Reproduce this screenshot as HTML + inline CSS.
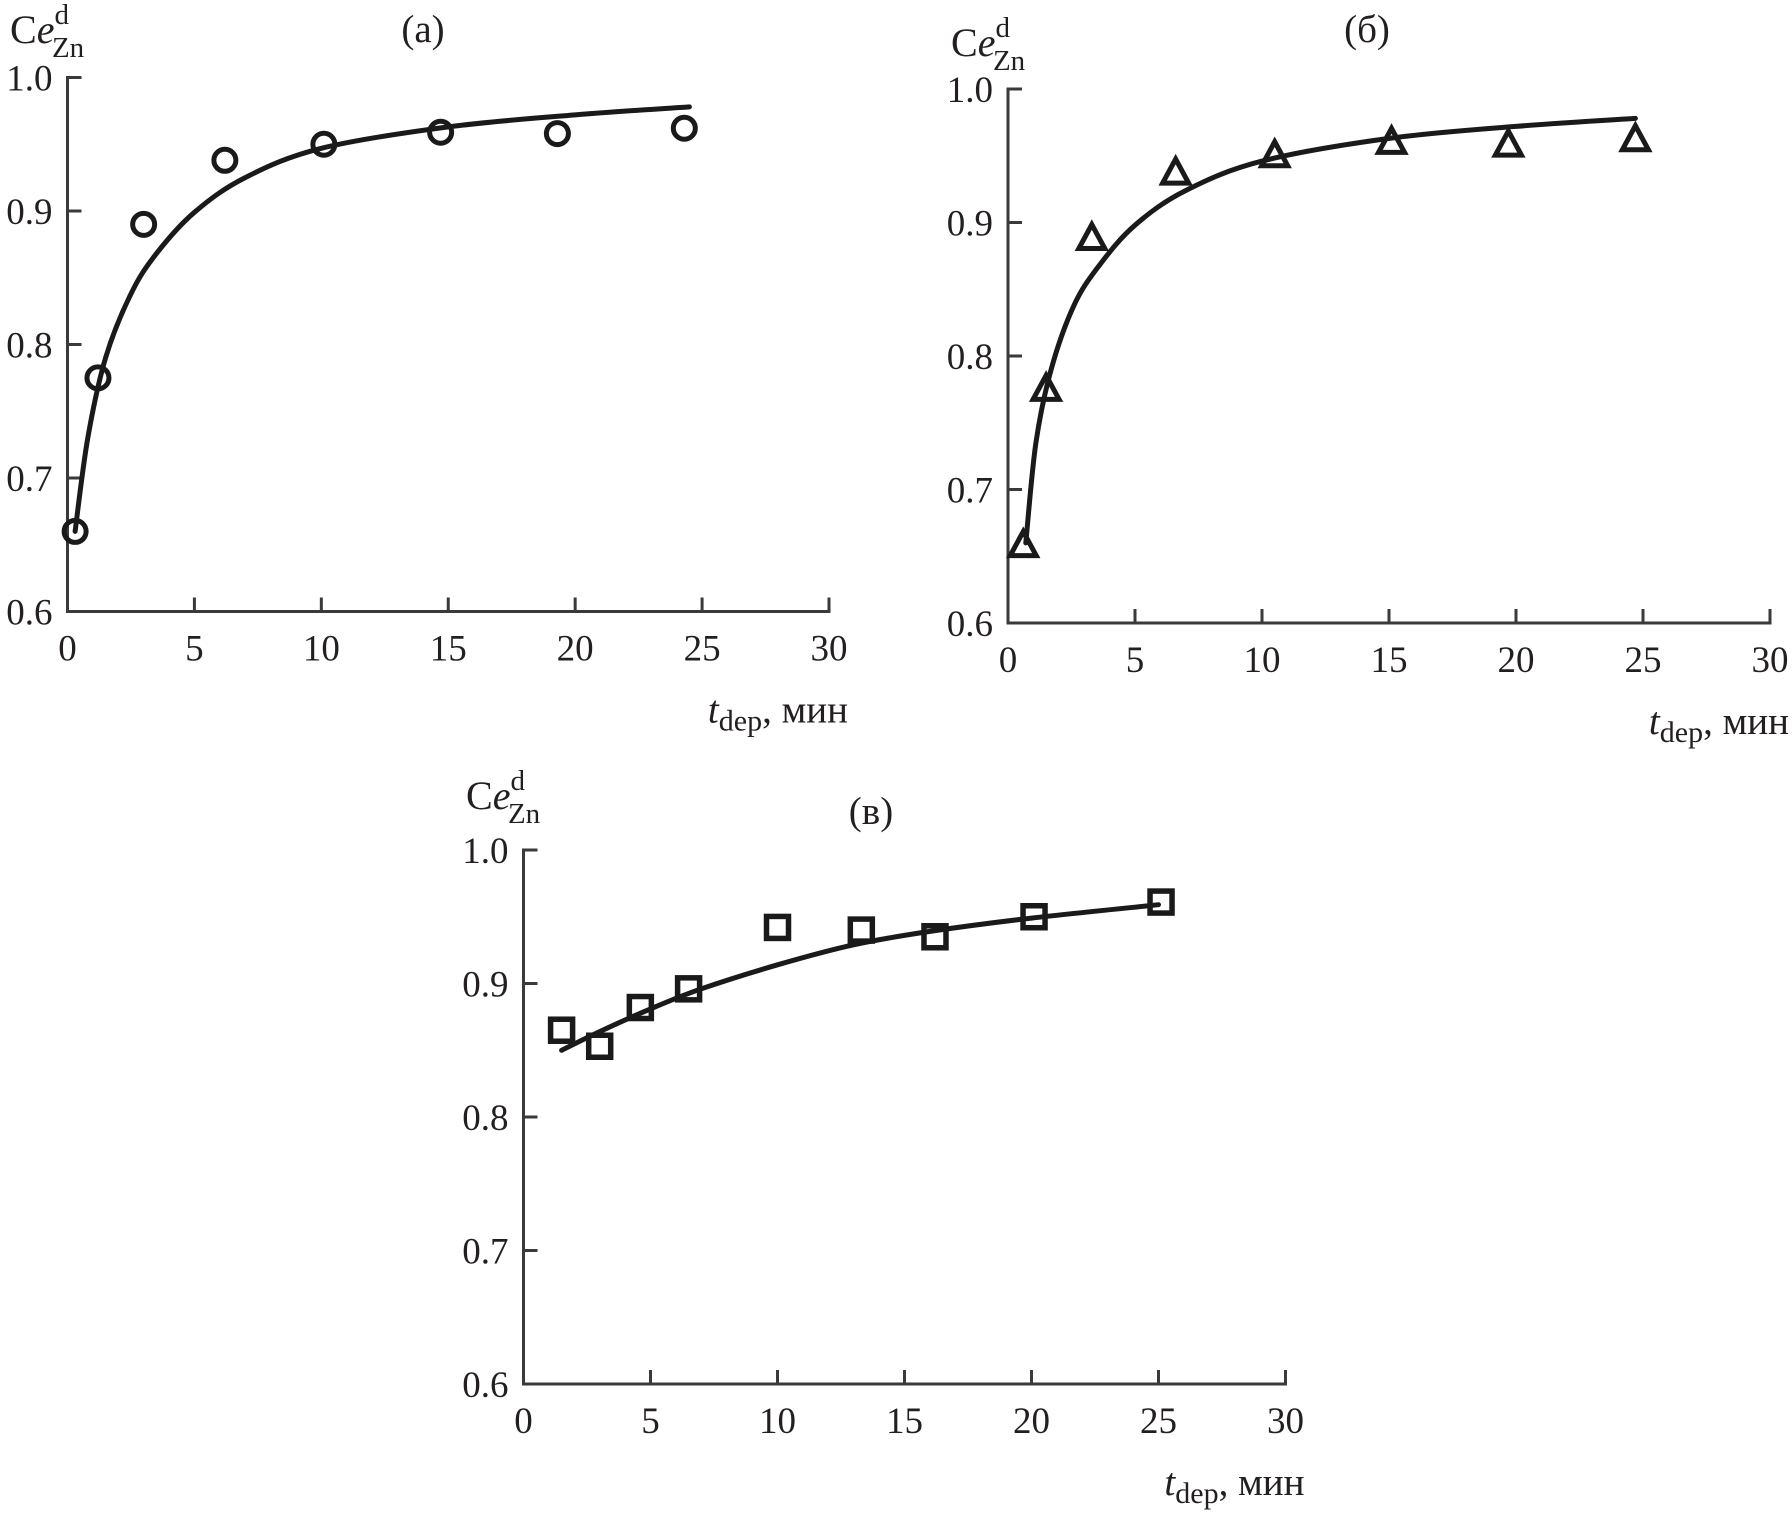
<!DOCTYPE html>
<html><head><meta charset="utf-8"><style>
html,body{margin:0;padding:0;background:#fff;width:1792px;height:1516px;overflow:hidden}
svg{display:block}
text{font-family:"Liberation Serif","Times New Roman",serif;fill:#231f20}
</style></head><body>
<svg id="fig" width="1792" height="1516" viewBox="0 0 1792 1516"></svg>
<script>
const xTicks=[0,5,10,15,20,25,30];
const yTicks=[0.6,0.7,0.8,0.9,1.0];
const yTickLabels=["0.6","0.7","0.8","0.9","1.0"];
const aX=[0.3,1.2,3.0,6.2,10.1,14.7,19.3,24.3];
const aY=[0.660,0.775,0.890,0.938,0.950,0.959,0.958,0.962];
const aFitX=[0.3,0.8,1.5,2.5,3.5,5,7,10,15,20,24.5];
const aFitY=[0.660,0.730,0.790,0.838,0.868,0.899,0.925,0.947,0.963,0.972,0.978];
const bX=[0.6,1.5,3.3,6.6,10.5,15.1,19.7,24.7];
const bY=[0.658,0.775,0.888,0.937,0.950,0.960,0.958,0.962];
const bFitX=[0.7,1.1,1.7,2.6,3.6,5,7,10,15,20,24.7];
const bFitY=[0.660,0.735,0.790,0.838,0.868,0.898,0.924,0.946,0.963,0.972,0.978];
const cX=[1.5,3.0,4.6,6.5,10.0,13.3,16.2,20.1,25.1];
const cY=[0.865,0.853,0.882,0.896,0.942,0.940,0.935,0.950,0.961];
const cFitX=[1.5,3,5,7,10,13,16,20,25];
const cFitY=[0.850,0.864,0.881,0.896,0.914,0.929,0.939,0.949,0.959];

const NS="http://www.w3.org/2000/svg";
const svg=document.getElementById('fig');
function mk(tag,attrs,parent){const e=document.createElementNS(NS,tag);for(const k in attrs)e.setAttribute(k,attrs[k]);(parent||svg).appendChild(e);return e;}
function smooth(pts){
  let d='M'+pts[0][0].toFixed(1)+','+pts[0][1].toFixed(1);
  for(let i=0;i<pts.length-1;i++){
    const p0=pts[i-1]||pts[i],p1=pts[i],p2=pts[i+1],p3=pts[i+2]||p2;
    const c1=[p1[0]+(p2[0]-p0[0])/6,p1[1]+(p2[1]-p0[1])/6];
    const c2=[p2[0]-(p3[0]-p1[0])/6,p2[1]-(p3[1]-p1[1])/6];
    d+=` C${c1[0].toFixed(1)},${c1[1].toFixed(1)} ${c2[0].toFixed(1)},${c2[1].toFixed(1)} ${p2[0].toFixed(1)},${p2[1].toFixed(1)}`;
  }
  return d;
}
function panel(p){
  const g=mk('g',{});
  
  
  const sx=v=>p.x0+(v-0)/30*(p.x1-p.x0);
  const sy=v=>p.yb+(v-0.6)/0.4*(p.yt-p.yb);
  const ax=mk('path',{d:`M${p.x0+14},${p.yt} H${p.x0} V${p.yb} H${p.x1} V${p.yb-14}`,fill:'none',stroke:'#3a3a3a','stroke-width':3},g);
  
  
  xTicks.forEach(t=>{
    if(t>0&&t<30){const tk=mk('line',{x1:sx(t),x2:sx(t),y1:p.yb,y2:p.yb-14,stroke:'#3a3a3a','stroke-width':3},g);
    
    }
    const tl=mk('text',{x:sx(t),y:p.yb+49,'text-anchor':'middle','font-size':37},g);
    tl.textContent=t;
    
    
  });
  yTicks.forEach((t,i)=>{
    if(i>0&&i<yTicks.length-1){const tk=mk('line',{x1:p.x0,x2:p.x0+14,y1:sy(t),y2:sy(t),stroke:'#3a3a3a','stroke-width':3},g);
    
    }
    const tl=mk('text',{x:p.x0-15,y:sy(t)+13,'text-anchor':'end','font-size':37},g);
    tl.textContent=yTickLabels[i];
    
    
  });
  const pts=p.fx.map((v,i)=>[sx(v),sy(p.fy[i])]);
  const fl=mk('path',{d:smooth(pts),fill:'none',stroke:'#1a1a1a','stroke-width':5,'stroke-linejoin':'round','stroke-linecap':'round'},g);
  
  
  p.px.forEach((v,i)=>{
    const cx=sx(v),cy=sy(p.py[i]);let m;
    if(p.marker==='circle')m=mk('circle',{cx:cx,cy:cy,r:11,fill:'none',stroke:'#1a1a1a','stroke-width':5},g);
    else if(p.marker==='tri')m=mk('path',{d:`M${cx},${cy-14} L${cx+13},${cy+10} L${cx-13},${cy+10} Z`,fill:'none',stroke:'#1a1a1a','stroke-width':5,'stroke-linejoin':'miter'},g);
    else m=mk('rect',{x:cx-11,y:cy-11,width:22,height:22,fill:'none',stroke:'#1a1a1a','stroke-width':5.5},g);
    
    
  });
  const yt=mk('text',{x:p.ytx,y:p.yty,'font-size':40},g);
  yt.innerHTML='C<tspan font-style="italic">e</tspan><tspan font-size="29" dy="-19">d</tspan><tspan font-size="29" dx="-17" dy="33">Zn</tspan>';
  
  
  const xt=mk('text',{x:p.x1+19,y:p.yb+111,'text-anchor':'end','font-size':39},g);
  xt.innerHTML='<tspan font-style="italic">t</tspan><tspan font-size="30" dy="8">dep</tspan><tspan dy="-8">, мин</tspan>';
  
  
  const tt=mk('text',{x:p.tx,y:p.ty,'text-anchor':'middle','font-size':39},g);
  tt.textContent=p.title;
  
  
}
panel({id:'a',x0:67.5,x1:829,yt:77.5,yb:611.5,fx:aFitX,fy:aFitY,px:aX,py:aY,marker:'circle',ytx:10,yty:43,tx:423,ty:42,title:'(а)'});
panel({id:'b',x0:1008,x1:1770,yt:89,yb:623,fx:bFitX,fy:bFitY,px:bX,py:bY,marker:'tri',ytx:951,yty:56,tx:1367,ty:42,title:'(б)'});
panel({id:'c',x0:523.5,x1:1285.5,yt:850,yb:1384,fx:cFitX,fy:cFitY,px:cX,py:cY,marker:'square',ytx:466,yty:809,tx:871,ty:824,title:'(в)'});
</script>
</body></html>
